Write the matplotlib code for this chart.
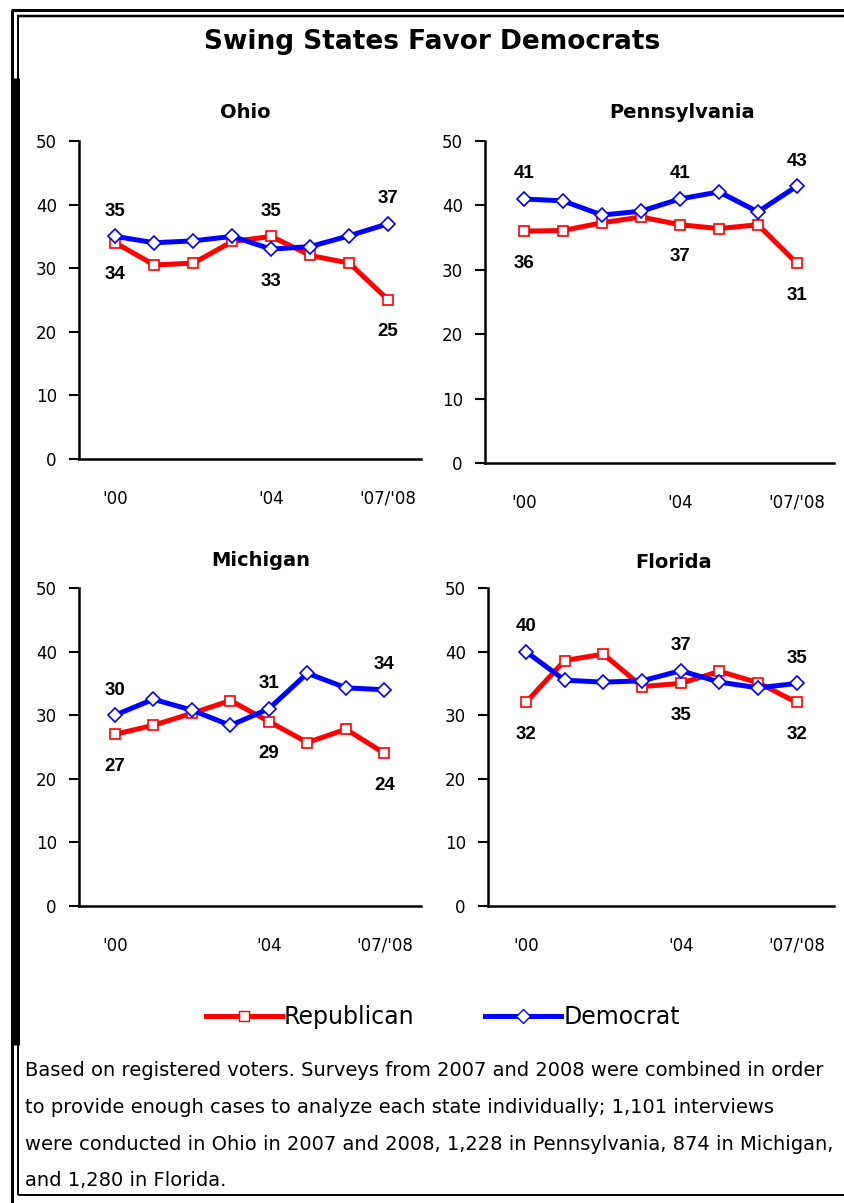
import matplotlib.pyplot as plt
from matplotlib.lines import Line2D

W, H = 844, 1203

# survey points per state, '00 ... '07/'08
points = list(range(8))
tick_pos = [0, 4, 7]
tick_text = ["'00", "'04", "'07/'08"]

ohio_rep = [34, 30.5, 30.8, 34.2, 35, 32, 30.8, 25]
ohio_dem = [35, 34, 34.3, 35, 33, 33.4, 35.1, 37]
penn_rep = [36, 36.1, 37.3, 38.2, 37, 36.4, 37, 31]
penn_dem = [41, 40.7, 38.5, 39.1, 41, 42.1, 39, 43]
mich_rep = [27, 28.4, 30.3, 32.3, 29, 25.7, 27.8, 24]
mich_dem = [30, 32.5, 30.8, 28.4, 31, 36.6, 34.3, 34]
flor_rep = [32, 38.6, 39.6, 34.5, 35, 36.9, 35.1, 32]
flor_dem = [40, 35.5, 35.2, 35.4, 37, 35.2, 34.3, 35]

states = ['Ohio', 'Pennsylvania', 'Michigan', 'Florida']
rep = [ohio_rep, penn_rep, mich_rep, flor_rep]
dem = [ohio_dem, penn_dem, mich_dem, flor_dem]
labelled = [0, 4, 7]

# axes boxes in pixels: left, right, top, bottom
boxes = [(79, 421, 141, 459), (485, 834, 141, 463),
         (79, 421, 588, 906), (488, 834, 588, 906)]
xlims = [(-0.93, 7.84), (-1.0, 7.95), (-0.93, 7.95), (-0.98, 7.96)]
# state name positions (x centre, y centre) in pixels
title_xy = [(245, 112), (682, 112), (261, 561), (674, 562)]

RED = '#ff0000'
BLUE = '#0000ff'

fig = plt.figure(figsize=(W / 100, H / 100), dpi=100)


def fx(x):
    return x / W


def fy(y):
    return 1 - y / H


for i, st in enumerate(states):
    l, r, t, b = boxes[i]
    ax = fig.add_axes([fx(l), fy(b), (r - l) / W, (b - t) / H])
    ax.plot(points, rep[i], color=RED, lw=3.6, marker='s', ms=7.5,
            mfc='white', mec=RED, mew=1.2, zorder=3)
    ax.plot(points, dem[i], color=BLUE, lw=3.6, marker='D', ms=7.5,
            mfc='white', mec=BLUE, mew=1.2, zorder=4)
    for k in labelled:
        hi, lo = max(rep[i][k], dem[i][k]), min(rep[i][k], dem[i][k])
        ax.annotate(f'{hi:.0f}', (k, hi), xytext=(0, 18), textcoords='offset points',
                    ha='center', va='center', fontsize=13.5, fontweight='bold',
                    family='Liberation Sans')
        ax.annotate(f'{lo:.0f}', (k, lo), xytext=(0, -23), textcoords='offset points',
                    ha='center', va='center', fontsize=13.5, fontweight='bold',
                    family='Liberation Sans')
    ax.set_xlim(*xlims[i])
    ax.set_ylim(0, 50)
    ax.set_yticks([0, 10, 20, 30, 40, 50])
    ax.set_xticks(tick_pos)
    ax.set_xticklabels(tick_text)
    ax.tick_params(axis='y', length=7, width=1.5, pad=9, labelsize=12)
    ax.tick_params(axis='x', length=0, pad=22, labelsize=12)
    for s in ['top', 'right']:
        ax.spines[s].set_visible(False)
    for s in ['left', 'bottom']:
        ax.spines[s].set_linewidth(1.8)
    tx, ty = title_xy[i]
    fig.text(fx(tx), fy(ty), st, ha='center', va='center', fontsize=14,
             fontweight='bold')

fig.text(fx(432), fy(42), 'Swing States Favor Democrats', ha='center', va='center',
         fontsize=19, fontweight='bold')

# legend
handles = [Line2D([], [], color=RED, lw=3.6, marker='s', ms=7.5, mfc='white', mec=RED),
           Line2D([], [], color=BLUE, lw=3.6, marker='D', ms=7.5, mfc='white', mec=BLUE)]
fig.legend(handles, ['Republican', 'Democrat'], loc='center',
           bbox_to_anchor=(fx(443), fy(1017)), ncol=2, frameon=False,
           prop={'family': 'DejaVu Sans', 'size': 17},
           handlelength=3.2, handletextpad=0.1, columnspacing=3.0)

notes = ['Based on registered voters. Surveys from 2007 and 2008 were combined in order',
         'to provide enough cases to analyze each state individually; 1,101 interviews',
         'were conducted in Ohio in 2007 and 2008, 1,228 in Pennsylvania, 874 in Michigan,',
         'and 1,280 in Florida.']
for n, line in enumerate(notes):
    fig.text(fx(25), fy(1071 + 36.5 * n), line, ha='left', va='center', fontsize=14)

# double frame along the top and left, heavy bar beside the charts
frame = [((11, W), (9.5, 9.5), 3), ((17, W), (15.5, 15.5), 2.5),
         ((12, 12), (9.5, H), 3), ((17.5, 17.5), (15.5, 1195), 2),
         ((17.5, W), (1195, 1195), 2), ((15.5, 15.5), (78, 1045), 9)]
for xs, ys, w in frame:
    fig.add_artist(Line2D([fx(v) for v in xs], [fy(v) for v in ys], color='black',
                          lw=w * 0.72, solid_capstyle='butt'))

fig.savefig('out.png', dpi=100)
